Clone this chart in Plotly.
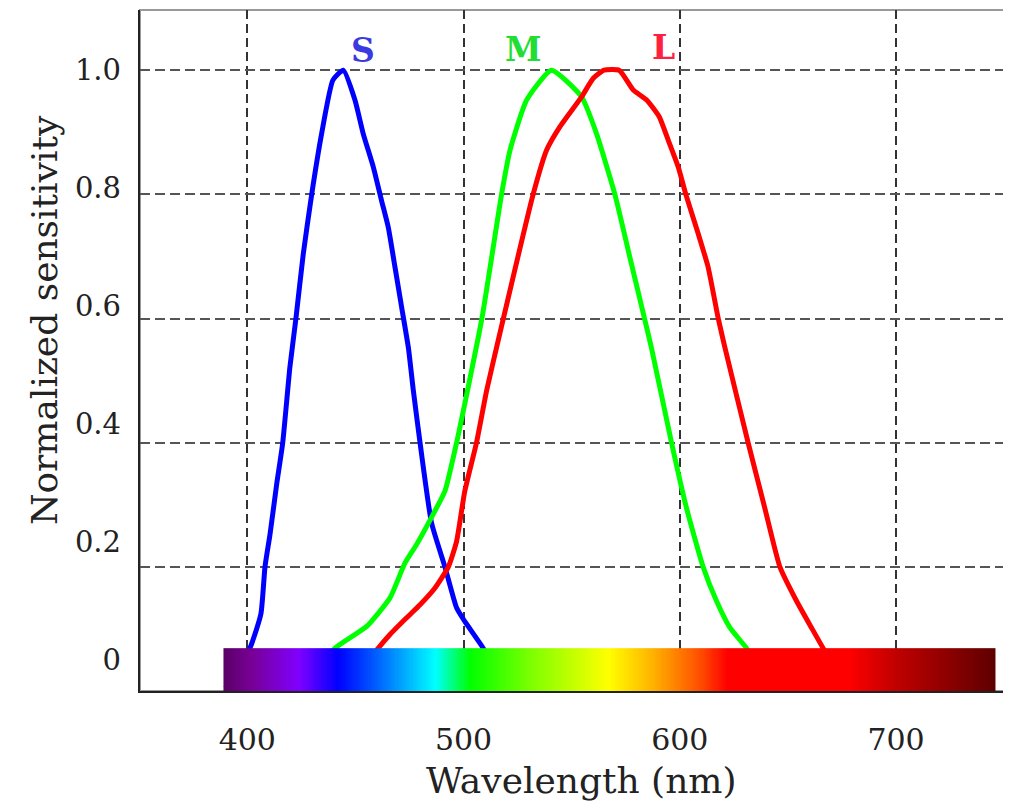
import numpy as np
import plotly.graph_objects as go

# ---- data ----
S_NM = [390, 401.2, 406.3, 408.2, 410.5, 413.6, 416.4, 419.7, 422.5, 425.9, 429.8, 434.4, 439.6,
        444.4, 449.8, 453.6, 458.3, 462.1, 465.2, 468.3, 471.4, 474.5, 476.8, 479.9, 485.2,
        491.4, 496.8, 500.6, 509.1, 515]
S_VAL = [0.005, 0.069, 0.124, 0.2, 0.252, 0.333, 0.4, 0.521, 0.6, 0.704, 0.8, 0.898, 0.984,
         1.0, 0.952, 0.898, 0.844, 0.79, 0.747, 0.683, 0.618, 0.553, 0.484, 0.4, 0.271,
         0.2, 0.134, 0.112, 0.069, 0.03]

M_NM = [430, 440.6, 455.2, 466, 472.9, 478.3, 486, 491.4, 496.8, 508.5, 517.6,
        521.5, 529.2, 540.7, 554.6, 561.5, 570, 576.9, 583.7, 586.9, 596.2, 603.1, 610.8,
        617, 623.2, 630.9, 640]
M_VAL = [0.02, 0.069, 0.104, 0.15, 0.206, 0.236, 0.285, 0.322, 0.4, 0.6, 0.8,
         0.871, 0.952, 1.0, 0.957, 0.898, 0.8, 0.699, 0.6, 0.553, 0.4, 0.295, 0.2,
         0.145, 0.102, 0.069, 0.02]

L_NM = [450, 460.6, 466, 473.7, 479.9, 486.8, 493, 496.8, 500.6, 506, 510.7, 516, 532.2,
        538.4, 544.6, 554.6, 560, 565, 572, 578.5, 584.7, 590.5, 594.7, 599.3, 602.8, 608.5,
        613.1, 617.8, 620.9, 631.6, 639.3, 646.3, 654, 660.9, 666.3, 675]
L_VAL = [0.02, 0.069, 0.091, 0.118, 0.139, 0.166, 0.2, 0.241, 0.322, 0.4, 0.484, 0.564, 0.8,
         0.871, 0.909, 0.957, 0.987, 1.0, 1.0, 0.968, 0.952, 0.925, 0.887, 0.844, 0.8, 0.737,
         0.683, 0.6, 0.553, 0.4, 0.295, 0.2, 0.145, 0.102, 0.069, 0.02]

CONE_NAMES = ["S", "M", "L"]
CONE_COLORS = ["#0000ff", "#00ff00", "#ff0000"]
LABEL_COLORS = ["#3a3ae0", "#22dd33", "#ff2040"]
LABEL_NM = [453.4, 527.6, 592.5]
LABEL_VAL = [1.031, 1.034, 1.037]

X_TICKS = [400, 500, 600, 700]
Y_GRID = [0.2, 0.4, 0.6, 0.8, 1.0]
Y_TICKS = [0, 0.2, 0.4, 0.6, 0.8, 1.0]
Y_TICK_TEXT = ["0", "0.2", "0.4", "0.6", "0.8", "1.0"]

SPECTRUM_NM = [389, 402, 424, 442, 460, 487, 503, 532, 567, 588, 609, 622, 678, 700, 746]
SPECTRUM_COLORS = ["#5a0064", "#780096", "#8000ff", "#0000ff", "#0060ff", "#00ffff",
                   "#00ff00", "#80ff00", "#ffff00", "#ffb000", "#ff5000", "#ff0000",
                   "#ff0000", "#c00000", "#5e0000"]
SPECTRUM_TOP = 0.069

FONT = "DejaVu Serif"

fig = go.Figure()

for nm, val, col, name in zip([S_NM, M_NM, L_NM], [S_VAL, M_VAL, L_VAL], CONE_COLORS, CONE_NAMES):
    fig.add_trace(go.Scatter(x=nm, y=val, mode="lines", name=name,
                             line=dict(color=col, width=5, shape="spline", smoothing=0.5),
                             xaxis="x", yaxis="y", showlegend=False))

# spectrum bar
lo, hi = SPECTRUM_NM[0], SPECTRUM_NM[-1]
cscale = [[(w - lo) / (hi - lo), c] for w, c in zip(SPECTRUM_NM, SPECTRUM_COLORS)]
edges = np.linspace(lo, hi, 358)
centers = (edges[:-1] + edges[1:]) / 2
fig.add_trace(go.Heatmap(x=edges, y=[0, SPECTRUM_TOP], z=[centers], colorscale=cscale,
                         zmin=lo, zmax=hi, showscale=False, hoverinfo="skip",
                         xaxis="x", yaxis="y2"))
fig.add_trace(go.Scatter(x=[], y=[], xaxis="x", yaxis="y3", showlegend=False, hoverinfo="skip"))

XR = [350.4, 750.4]
YR = [0, 1.097]

# page body has an 8px default margin, so the figure is sized/offset to compensate
fig.update_layout(
    width=1003, height=800,
    margin=dict(l=132, r=6, t=2, b=117),
    paper_bgcolor="white", plot_bgcolor="white",
    showlegend=False,
    font=dict(family=FONT, color="#222"),
    xaxis=dict(range=XR, tickvals=X_TICKS, showgrid=True, gridcolor="#333",
               griddash="9px,5px", gridwidth=1.6, showline=True, linecolor="#222",
               linewidth=2, ticks="", ticklabelstandoff=21, zeroline=False,
               tickfont=dict(family=FONT, size=30, color="#222"), layer="below traces"),
    yaxis=dict(range=YR, tickvals=Y_GRID, showticklabels=False, showgrid=True,
               gridcolor="#555", griddash="10px,5px", gridwidth=1.6, showline=True,
               linecolor="#222", linewidth=2, ticks="", zeroline=False, layer="below traces"),
    yaxis2=dict(range=YR, overlaying="y", visible=False),
    yaxis3=dict(range=[-0.052, 1.1017], overlaying="y", side="left", tickvals=Y_TICKS,
                ticktext=Y_TICK_TEXT, showgrid=False, showline=False, zeroline=False,
                ticks="", ticklabelstandoff=18,
                tickfont=dict(family=FONT, size=29, color="#222")),
    shapes=[dict(type="rect", xref="paper", yref="paper", x0=0, x1=1, y0=0, y1=1,
                 line=dict(color="#999", width=2), layer="below")],
)

ann = [
    dict(text="Normalized sensitivity", xref="paper", yref="paper", x=-0.111, y=0.5446,
         textangle=-90, showarrow=False, xanchor="center", yanchor="middle",
         font=dict(family=FONT, size=36, color="#222")),
    dict(text="Wavelength (nm)", xref="paper", yref="paper", x=0.5106, y=-0.131,
         showarrow=False, xanchor="center", yanchor="middle",
         font=dict(family=FONT, size=36, color="#222")),
]
for name, x, y, c in zip(CONE_NAMES, LABEL_NM, LABEL_VAL, LABEL_COLORS):
    ann.append(dict(text="<b>%s</b>" % name, x=x, y=y, xref="x", yref="y", showarrow=False,
                    xanchor="center", yanchor="middle",
                    font=dict(family=FONT, size=33, color=c)))
fig.update_layout(annotations=ann)

fig.write_html("out.html")
